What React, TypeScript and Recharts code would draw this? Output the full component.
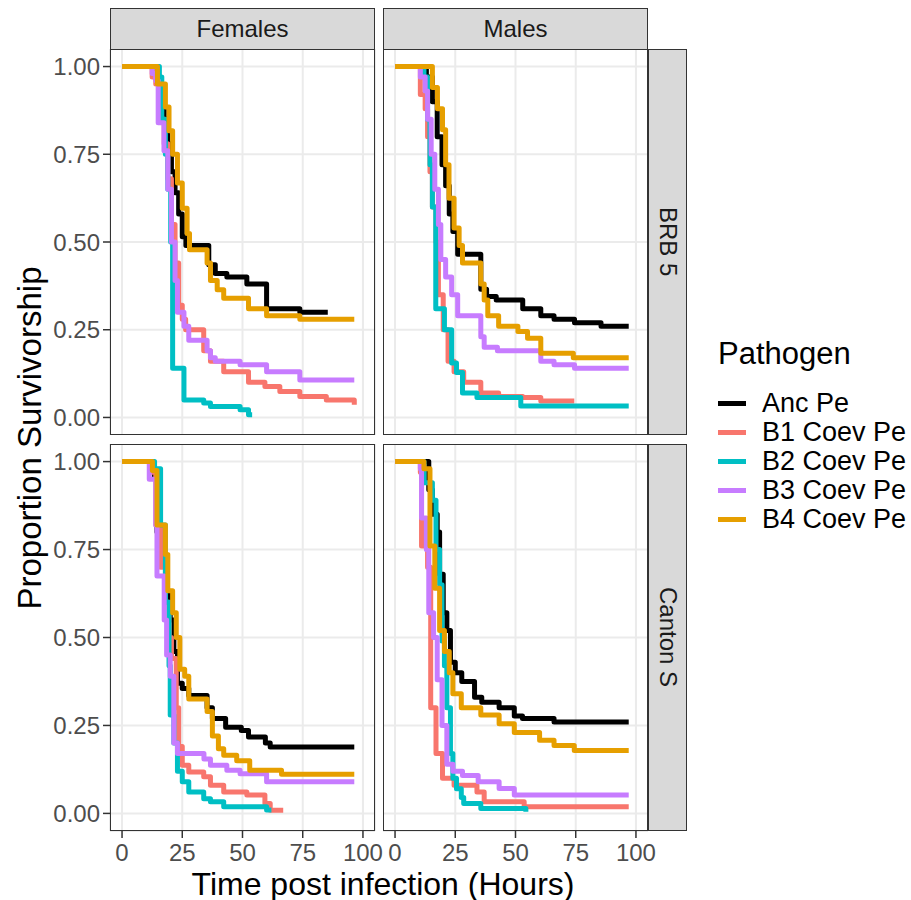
import React from "react";
import { CartesianGrid, Line, LineChart, XAxis, YAxis } from "recharts";

type Pt = [number, number];

// pathogen groups and their colours (drawn in this order, orange on top)
const PATHOGENS = ["Anc Pe", "B1 Coev Pe", "B2 Coev Pe", "B3 Coev Pe", "B4 Coev Pe"];
const COLORS = ["#000000", "#F8766D", "#00BFC4", "#C77CFF", "#E69F00"];

const SEXES = ["Females", "Males"];
const LINES = ["BRB 5", "Canton S"];

const X_TICKS = [0, 25, 50, 75, 100];
const X_MINOR = [12.5, 37.5, 62.5, 87.5];
const Y_TICKS = [0, 0.25, 0.5, 0.75, 1];
const Y_MINOR = [0.125, 0.375, 0.625, 0.875];

// survival steps, [hours, proportion alive]
// Females, BRB 5
const fbAnc: Pt[] = [[0, 1], [14.5, 0.97], [16, 0.9], [17.5, 0.85], [19, 0.78], [20.5, 0.7], [22, 0.64], [23.5, 0.58], [25, 0.515], [26.5, 0.49], [36, 0.435], [38.7, 0.41], [43.5, 0.4], [51.8, 0.38], [60, 0.31], [73.8, 0.3], [85.4, 0.3]];
const fbB1: Pt[] = [[0, 1], [12.5, 0.97], [14, 0.95], [15.5, 0.85], [17.5, 0.78], [19, 0.68], [20.5, 0.55], [22, 0.44], [23.5, 0.32], [25, 0.28], [26.4, 0.25], [33.9, 0.19], [36.7, 0.16], [42.2, 0.13], [52.5, 0.1], [59.3, 0.088], [65.5, 0.074], [73.8, 0.06], [84.8, 0.05], [96.4, 0.036]];
const fbB2: Pt[] = [[0, 1], [15.5, 0.97], [16.5, 0.85], [18, 0.75], [19, 0.65], [20.2, 0.5], [21, 0.14], [25.7, 0.05], [33.9, 0.041], [36.7, 0.031], [49, 0.022], [52.5, 0.008], [54, 0.008]];
const fbB3: Pt[] = [[0, 1], [12.5, 0.98], [14, 0.96], [15, 0.84], [17.4, 0.76], [19, 0.65], [20.5, 0.5], [22, 0.39], [23, 0.3], [25.7, 0.26], [27.7, 0.22], [35.3, 0.19], [36.7, 0.17], [38.7, 0.16], [49, 0.15], [60, 0.13], [73.8, 0.107], [96.4, 0.107]];
const fbB4: Pt[] = [[0, 1], [14.7, 0.95], [18, 0.885], [19.5, 0.817], [21, 0.75], [23, 0.668], [25, 0.596], [27, 0.524], [28, 0.478], [35.3, 0.44], [36.7, 0.39], [39.5, 0.364], [42.2, 0.34], [52.5, 0.31], [60, 0.29], [73.8, 0.28], [96.4, 0.28]];

// Males, BRB 5
const mbAnc: Pt[] = [[0, 1], [13, 0.97], [15.5, 0.9], [17.5, 0.8], [19.5, 0.72], [21, 0.66], [22.5, 0.58], [24, 0.53], [26, 0.465], [35.6, 0.365], [38, 0.345], [42, 0.335], [53, 0.31], [60.5, 0.29], [66, 0.28], [74.5, 0.27], [85.5, 0.26], [97, 0.26]];
const mbB1: Pt[] = [[0, 1], [10.5, 0.92], [12.5, 0.88], [13.5, 0.8], [14.5, 0.7], [15.5, 0.6], [17, 0.5], [18, 0.35], [20, 0.25], [22, 0.16], [24.5, 0.13], [28.5, 0.1], [35.6, 0.07], [43, 0.06], [53, 0.057], [60.5, 0.047], [74.4, 0.047]];
const mbB2: Pt[] = [[0, 1], [12, 0.97], [13.5, 0.85], [14.5, 0.72], [15.5, 0.6], [16.9, 0.31], [20.5, 0.25], [23.5, 0.155], [25.5, 0.128], [28, 0.07], [34, 0.057], [52.2, 0.033], [97, 0.033]];
const mbB3: Pt[] = [[0, 1], [10.5, 0.97], [12.5, 0.93], [13.5, 0.85], [15, 0.75], [16.5, 0.65], [18, 0.55], [19, 0.45], [21, 0.4], [23.5, 0.35], [26, 0.29], [35.6, 0.23], [37, 0.2], [42.5, 0.19], [60.5, 0.16], [66, 0.15], [74.5, 0.14], [97, 0.14]];
const mbB4: Pt[] = [[0, 1], [15.5, 0.94], [17.6, 0.88], [19.7, 0.82], [21, 0.72], [22.4, 0.625], [24.5, 0.54], [26.6, 0.49], [28, 0.44], [35.6, 0.38], [37, 0.335], [38.5, 0.29], [43, 0.26], [51, 0.245], [55, 0.226], [60.5, 0.183], [74, 0.17], [97, 0.17]];

// Females, Canton S
const fcAnc: Pt[] = [[0, 1], [12.6, 0.98], [13.5, 0.955], [14.5, 0.8], [17.5, 0.73], [18.5, 0.63], [20, 0.55], [21.5, 0.46], [23, 0.37], [25, 0.355], [27.7, 0.335], [35.3, 0.3], [37.5, 0.27], [43, 0.245], [49.5, 0.236], [52.5, 0.217], [59.5, 0.2], [61.5, 0.189], [96.4, 0.189]];
const fcB1: Pt[] = [[0, 1], [12, 0.97], [14, 0.82], [16, 0.7], [18, 0.6], [19.5, 0.5], [20.5, 0.44], [22.5, 0.3], [23.5, 0.19], [25, 0.137], [27.7, 0.118], [33.9, 0.104], [36.7, 0.08], [42.2, 0.061], [51.8, 0.052], [59.3, 0.028], [61.5, 0.009], [66.9, 0.009]];
const fcB2: Pt[] = [[0, 1], [13.5, 0.98], [16, 0.82], [18, 0.6], [19.5, 0.42], [20, 0.28], [21.5, 0.2], [23, 0.12], [25, 0.09], [27.7, 0.061], [33.9, 0.042], [36.7, 0.033], [42.2, 0.019], [60, 0.01], [62, 0.01]];
const fcB3: Pt[] = [[0, 1], [11.3, 0.95], [14, 0.82], [14.5, 0.675], [17.5, 0.55], [18.5, 0.45], [20, 0.39], [21.5, 0.2], [23, 0.17], [34, 0.155], [36.7, 0.137], [43.5, 0.123], [49, 0.113], [60, 0.09], [96.4, 0.09]];
const fcB4: Pt[] = [[0, 1], [12.6, 0.975], [14.5, 0.82], [18, 0.736], [19, 0.633], [21, 0.57], [22.5, 0.5], [24, 0.41], [26, 0.39], [27.7, 0.325], [35.3, 0.29], [37.5, 0.22], [40, 0.184], [42.2, 0.165], [47.6, 0.15], [53, 0.123], [66.2, 0.111], [96.4, 0.111]];

// Males, Canton S
const mcAnc: Pt[] = [[0, 1], [14, 0.92], [15.5, 0.85], [17.5, 0.8], [18.5, 0.68], [20, 0.57], [21.5, 0.52], [23, 0.43], [25, 0.4], [27.7, 0.375], [33, 0.33], [36, 0.316], [43.2, 0.3], [49.5, 0.277], [52.9, 0.27], [66, 0.26], [97, 0.26]];
const mcB1: Pt[] = [[0, 1], [10.5, 0.97], [11, 0.76], [13.5, 0.7], [14.8, 0.3], [17, 0.17], [19.7, 0.1], [24.5, 0.08], [34, 0.061], [37, 0.033], [53.6, 0.019], [97, 0.019]];
const mcB2: Pt[] = [[0, 1], [12, 0.94], [15.5, 0.89], [17, 0.75], [18.5, 0.65], [19.5, 0.49], [20.5, 0.42], [21.5, 0.3], [23, 0.17], [24, 0.1], [25.5, 0.07], [27.5, 0.045], [28.5, 0.028], [35.6, 0.014], [54.3, 0.005]];
const mcB3: Pt[] = [[0, 1], [10.5, 0.98], [11, 0.84], [13, 0.75], [14, 0.57], [16, 0.5], [17.5, 0.38], [19.5, 0.25], [21.5, 0.14], [24, 0.12], [28, 0.108], [34.5, 0.09], [43.2, 0.071], [49.5, 0.052], [97, 0.052]];
const mcB4: Pt[] = [[0, 1], [12, 0.98], [14.5, 0.76], [16.5, 0.64], [18.5, 0.52], [20.5, 0.46], [22.5, 0.4], [24, 0.34], [27.5, 0.3], [35.6, 0.28], [43.2, 0.255], [49.5, 0.23], [60, 0.208], [66, 0.193], [74.4, 0.179], [97, 0.179]];

const FONT = '"Liberation Sans", Arial, Helvetica, sans-serif';
const X_DOMAIN = [-5, 105];
const Y_DOMAIN = [-0.05, 1.05];
const PW = 265;
const Y_AXIS_W = 70;
const X_AXIS_H = 40;
const RIGHT_PAD = 24; // room for the "100" label past the panel edge
const BORDER = "1.5px solid #333333";

const tickStyle = { fontSize: 24, fill: "#4d4d4d", fontFamily: FONT };

function Panel({ left, top, height, series, showX, showY }: {
  left: number; top: number; height: number; series: Pt[][]; showX: boolean; showY: boolean;
}) {
  const yw = showY ? Y_AXIS_W : 0;
  const xh = showX ? X_AXIS_H : 0;
  return (
    <>
      <div style={{ position: "absolute", left: left - yw, top }}>
        <LineChart
          width={yw + PW + RIGHT_PAD}
          height={height + xh}
          margin={{ top: 0, right: RIGHT_PAD, bottom: 0, left: 0 }}
        >
          <CartesianGrid xAxisId="minor" yAxisId="minor" stroke="#f4f4f4" strokeWidth={1.2} />
          <CartesianGrid stroke="#ebebeb" strokeWidth={2} />
          <XAxis
            dataKey="t"
            type="number"
            domain={X_DOMAIN}
            ticks={X_TICKS}
            hide={!showX}
            height={X_AXIS_H}
            axisLine={false}
            tickSize={7}
            tickMargin={6}
            tickLine={{ stroke: "#333333", strokeWidth: 1.5 }}
            tick={tickStyle}
            interval={0}
          />
          <XAxis xAxisId="minor" dataKey="t" type="number" domain={X_DOMAIN} ticks={X_MINOR} hide />
          <YAxis
            type="number"
            domain={Y_DOMAIN}
            ticks={Y_TICKS}
            hide={!showY}
            width={Y_AXIS_W}
            axisLine={false}
            tickSize={7}
            tickMargin={3}
            tickLine={{ stroke: "#333333", strokeWidth: 1.5 }}
            tick={tickStyle}
            tickFormatter={(v: number) => v.toFixed(2)}
            interval={0}
          />
          <YAxis yAxisId="minor" type="number" domain={Y_DOMAIN} ticks={Y_MINOR} hide />
          {series.map((pts, i) => (
            <Line
              key={PATHOGENS[i]}
              name={PATHOGENS[i]}
              data={pts.map(([t, s]) => ({ t, s }))}
              dataKey="s"
              type="stepAfter"
              stroke={COLORS[i]}
              strokeWidth={5}
              strokeLinejoin="round"
              dot={false}
              activeDot={false}
              isAnimationActive={false}
            />
          ))}
        </LineChart>
      </div>
      <div
        style={{
          position: "absolute", left, top, width: PW, height,
          border: BORDER, boxSizing: "border-box", pointerEvents: "none",
        }}
      />
    </>
  );
}

export default function App() {
  const lefts = [110, 383];
  const tops = [49, 444];
  const heights = [386, 387];
  const grid = [
    [[fbAnc, fbB1, fbB2, fbB3, fbB4], [mbAnc, mbB1, mbB2, mbB3, mbB4]],
    [[fcAnc, fcB1, fcB2, fcB3, fcB4], [mcAnc, mcB1, mcB2, mcB3, mcB4]],
  ];
  return (
    <div style={{ position: "absolute", left: 0, top: 0, width: 911, height: 900, background: "#fff", fontFamily: FONT, overflow: "hidden" }}>
      {grid.map((row, r) =>
        row.map((series, c) => (
          <Panel
            key={`${r}-${c}`}
            left={lefts[c]}
            top={tops[r]}
            height={heights[r]}
            series={series}
            showX={r === 1}
            showY={c === 0}
          />
        ))
      )}

      {SEXES.map((s, c) => (
        <div
          key={s}
          style={{
            position: "absolute", left: lefts[c], top: 8, width: PW, height: 42,
            background: "#d9d9d9", border: BORDER, boxSizing: "border-box",
            display: "flex", alignItems: "center", justifyContent: "center",
            fontSize: 24, color: "#1a1a1a",
          }}
        >
          {s}
        </div>
      ))}

      {LINES.map((l, r) => (
        <div
          key={l}
          style={{
            position: "absolute", left: 648, top: tops[r], width: 39, height: heights[r],
            background: "#d9d9d9", border: BORDER, boxSizing: "border-box",
            display: "flex", alignItems: "center", justifyContent: "center",
            fontSize: 24, color: "#1a1a1a", writingMode: "vertical-rl",
          }}
        >
          {l}
        </div>
      ))}

      <div
        style={{
          position: "absolute", left: 30, top: 438, fontSize: 33, color: "#000",
          transform: "translate(-50%, -50%) rotate(-90deg)", whiteSpace: "nowrap",
        }}
      >
        Proportion Survivorship
      </div>
      <div
        style={{
          position: "absolute", left: 383, top: 884, fontSize: 32, color: "#000",
          transform: "translate(-50%, -50%)", whiteSpace: "nowrap",
        }}
      >
        Time post infection (Hours)
      </div>

      <div style={{ position: "absolute", left: 718, top: 336, fontSize: 31, color: "#000", whiteSpace: "nowrap" }}>
        Pathogen
      </div>
      {PATHOGENS.map((p, i) => (
        <div
          key={p}
          style={{
            position: "absolute", left: 718, top: 389 + i * 29, height: 28,
            display: "flex", alignItems: "center", whiteSpace: "nowrap",
          }}
        >
          <div style={{ width: 28, height: 5, background: COLORS[i] }} />
          <div style={{ marginLeft: 16, fontSize: 27, color: "#000" }}>{p}</div>
        </div>
      ))}
    </div>
  );
}
